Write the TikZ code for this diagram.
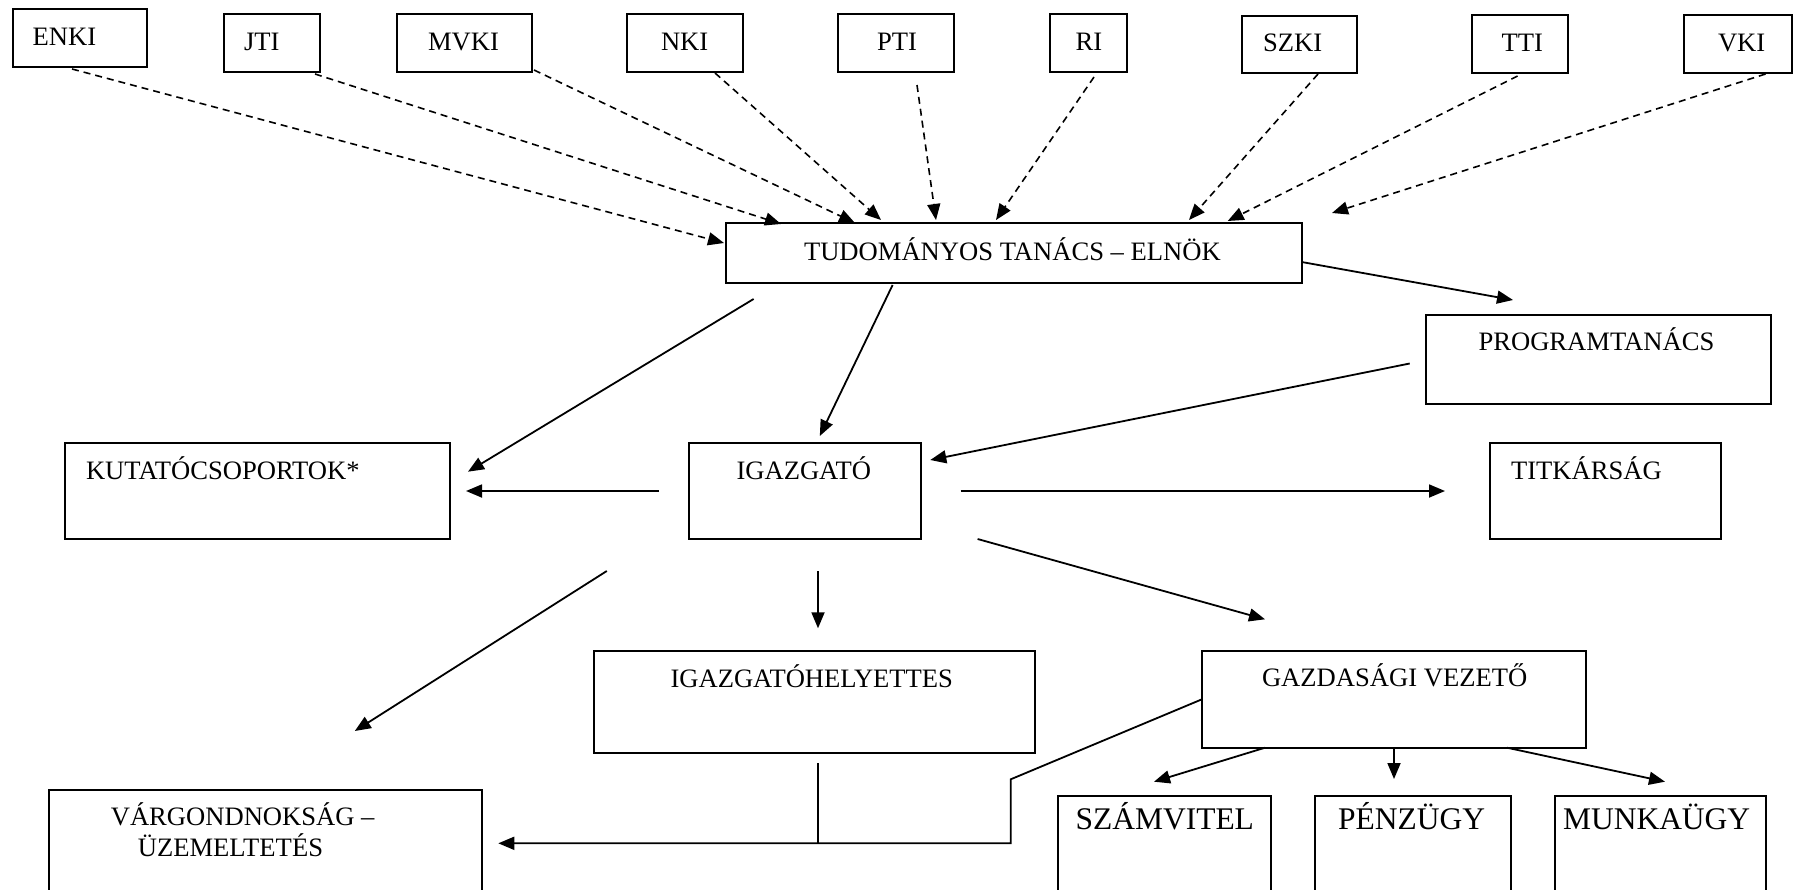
\documentclass[tikz,border=0pt]{standalone}
\usepackage{fontspec}
\setmainfont{Liberation Serif}
\usetikzlibrary{arrows.meta}
\newcommand{\bx}[5]{\node[box,anchor=north west,minimum width={#4pt-#2pt},minimum height={#5pt-#3pt}] (#1) at (#2,#3) {};}
\newcommand{\tx}[5][txt]{\node[#1] (#2) at (#3,#4) {#5};}
\begin{document}
\begin{tikzpicture}[x=1pt,y=-1pt,
  box/.style={draw, line width=2pt, inner sep=0pt, outer sep=0pt},
  txt/.style={anchor=base west, inner sep=0pt, outer sep=0pt, font=\fontsize{26.6}{30}\selectfont},
  bigtxt/.style={txt, font=\fontsize{31.5}{36}\selectfont},
  dl/.style={line width=1.6pt, dash pattern=on 7pt off 5pt, -{Triangle[length=16pt,width=13pt]}},
  al/.style={line width=1.8pt, -{Triangle[length=16pt,width=13pt]}},
  pl/.style={line width=1.8pt}]
\clip (0,0) rectangle (1793,889);
\fill[white] (0,0) rectangle (1793,889);
% boxes
\bx{ENKI}{12.6}{9.3}{147}{67}
\bx{JTI}{224}{14}{320}{72}
\bx{MVKI}{397}{14}{532}{72}
\bx{NKI}{627}{14}{743}{72}
\bx{PTI}{838}{14}{953.6}{72}
\bx{RI}{1049.7}{14}{1126.6}{72}
\bx{SZKI}{1241.5}{15.7}{1356.8}{73}
\bx{TTI}{1471.6}{15}{1568}{73}
\bx{VKI}{1683.5}{15}{1791.5}{73}
\bx{TT}{725.6}{223}{1301.7}{283}
\bx{PROG}{1425.7}{315}{1771}{404}
\bx{KUT}{65.4}{443}{450}{539}
\bx{IG}{689}{443}{920.6}{539}
\bx{TIT}{1490}{443}{1720.8}{539}
\bx{IGH}{593.6}{651}{1035.4}{753.3}
\bx{GAZ}{1201.8}{651}{1586}{747.7}
\bx{VAR}{49.4}{790}{482}{900}
\bx{SZA}{1057.8}{795.7}{1270.7}{900}
\bx{PEN}{1315}{795.7}{1511}{900}
\bx{MUN}{1555}{795.7}{1765.6}{900}
% texts
\tx{tENKI}{32.7}{45}{ENKI}
\tx{tJTI}{244}{50.7}{JTI}
\tx{tMVKI}{428}{50.7}{MVKI}
\tx{tNKI}{661}{50.7}{NKI}
\tx{tPTI}{877}{50.7}{PTI}
\tx{tRI}{1075.5}{50.7}{RI}
\tx{tSZKI}{1263}{51.7}{SZKI}
\tx{tTTI}{1501.5}{51.7}{TTI}
\tx{tVKI}{1718}{51.7}{VKI}
\tx{tTT}{804}{260}{TUDOMÁNYOS TANÁCS – ELNÖK}
\tx{tPROG}{1478.5}{350}{PROGRAMTANÁCS}
\tx{tKUT}{86}{479}{KUTATÓCSOPORTOK*}
\tx{tIG}{736.5}{479}{IGAZGATÓ}
\tx{tTIT}{1511}{479}{TITKÁRSÁG}
\tx{tIGH}{670.5}{687.7}{IGAZGATÓHELYETTES}
\tx{tGAZ}{1262}{686.7}{GAZDASÁGI VEZETŐ}
\tx{tVAR1}{110.8}{825.7}{VÁRGONDNOKSÁG –}
\tx{tVAR2}{137.8}{856.7}{ÜZEMELTETÉS}
\tx[bigtxt]{tSZA}{1075.5}{829.3}{SZÁMVITEL}
\tx[bigtxt]{tPEN}{1338}{829.3}{PÉNZÜGY}
\tx[bigtxt]{tMUN}{1563}{829.3}{MUNKAÜGY}
% dashed connectors
\draw[dl] ([shift={(59.4,2)}]ENKI.south west) -- ([shift={(-1.6,-10)}]TT.west);
\draw[dl] ([shift={(-5,2)}]JTI.south east) -- ([shift={(55.4,1)}]TT.north west);
\draw[dl] ([shift={(2,-2)}]MVKI.south east) -- ([shift={(129.4,0)}]TT.north west);
\draw[dl] ([shift={(88,1)}]NKI.south west) -- ([shift={(155.4,-3)}]TT.north west);
\draw[dl] ([shift={(79,13)}]PTI.south west) -- ([shift={(210.4,-3)}]TT.north west);
\draw[dl] ([shift={(44.3,5)}]RI.south west) -- ([shift={(270.4,-3)}]TT.north west);
\draw[dl] ([shift={(76.5,1)}]SZKI.south west) -- ([shift={(463.4,-3)}]TT.north west);
\draw[dl] ([shift={(46,3)}]TTI.south west) -- ([shift={(502.1,-2)}]TT.north west);
\draw[dl] ([shift={(82,1)}]VKI.south west) -- ([shift={(606.4,-10)}]TT.north west);
% solid connectors
\draw[al] ([shift={(0,9)}]TT.east) -- ([shift={(87.3,-15)}]PROG.north west);
\draw[al] ([shift={(28,16)}]TT.south west) -- ([shift={(18,-19.3)}]KUT.east);
\draw[al] ([shift={(167,2)}]TT.south west) -- ([shift={(130.8,-7)}]IG.north west);
\draw[al] ([shift={(-16,4)}]PROG.west) -- ([shift={(9.7,17)}]IG.north east);
\draw[al] ([shift={(-30,0)}]IG.west) -- ([shift={(16,0)}]KUT.east);
\draw[al] ([shift={(40,0)}]IG.east) -- ([shift={(-45,0)}]TIT.west);
\draw[al] ([shift={(57,0)}]IG.south east) -- ([shift={(63.2,-31.7)}]GAZ.north west);
\draw[al] ([shift={(-82.2,32)}]IG.south west) -- ([shift={(305.4,-59)}]VAR.north west);
\draw[al] ([shift={(13.2,32)}]IG.south) -- ([shift={(3.5,-22.7)}]IGH.north);
\coordinate (j) at (818,843.3);
\coordinate (k1) at (1010.7,779.3);
\coordinate (k2) at (1010.7,843.3);
\draw[pl] ([shift={(3.5,9.7)}]IGH.south) -- (j);
\draw[al] (GAZ.west) -- (k1) -- (k2) -- ([shift={(16.3,53.3)}]VAR.north east);
\draw[al] ([shift={(63.2,0)}]GAZ.south west) -- ([shift={(96.2,-14)}]SZA.north west);
\draw[al] ([shift={(192.2,0)}]GAZ.south west) -- ([shift={(79,-16.7)}]PEN.north west);
\draw[al] ([shift={(305.2,0)}]GAZ.south west) -- ([shift={(110,-14)}]MUN.north west);
\end{tikzpicture}
\end{document}
